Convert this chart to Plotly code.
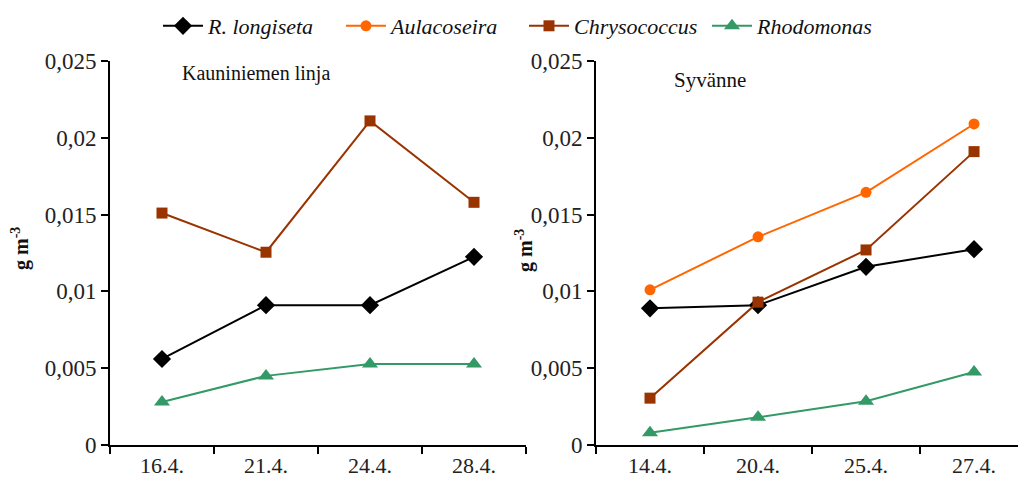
import plotly.graph_objects as go

# Sampling dates for the two stations
dates_kauniniemi = ["16.4.", "21.4.", "24.4.", "28.4."]
dates_syvanne = ["14.4.", "20.4.", "25.4.", "27.4."]

# Biomass (g m-3), Kauniniemen linja
k_longiseta = [0.0056, 0.0091, 0.0091, 0.01225]
k_chrysococcus = [0.0151, 0.01255, 0.0211, 0.0158]
k_rhodomonas = [0.0028, 0.0045, 0.00527, 0.00527]

# Biomass (g m-3), Syvänne
s_longiseta = [0.0089, 0.0091, 0.0116, 0.01275]
s_aulacoseira = [0.0101, 0.01355, 0.01645, 0.0209]
s_chrysococcus = [0.00305, 0.0093, 0.0127, 0.0191]
s_rhodomonas = [0.0008, 0.0018, 0.00285, 0.00475]

y_ticks = [0, 0.005, 0.01, 0.015, 0.02, 0.025]

FONT = "Liberation Serif"
styles = {
    "R. longiseta": dict(color="#000000", symbol="diamond", size=14),
    "Aulacoseira": dict(color="#FF6600", symbol="circle", size=11),
    "Chrysococcus": dict(color="#993300", symbol="square", size=11),
    "Rhodomonas": dict(color="#339966", symbol="triangle-up", size=14),
}

fig = go.Figure()


def add_series(name, x, y, xa, ya, show):
    st = styles[name]
    fig.add_trace(go.Scatter(
        x=x, y=y, name=name, mode="lines+markers",
        line=dict(color=st["color"], width=2),
        marker=dict(color=st["color"], symbol=st["symbol"], size=st["size"]),
        xaxis=xa, yaxis=ya, showlegend=show, legendgroup=name,
    ))


# Right panel carries the legend (it has all four taxa)
add_series("R. longiseta", dates_syvanne, s_longiseta, "x2", "y2", True)
add_series("Aulacoseira", dates_syvanne, s_aulacoseira, "x2", "y2", True)
add_series("Chrysococcus", dates_syvanne, s_chrysococcus, "x2", "y2", True)
add_series("Rhodomonas", dates_syvanne, s_rhodomonas, "x2", "y2", True)

add_series("R. longiseta", dates_kauniniemi, k_longiseta, "x", "y", False)
add_series("Chrysococcus", dates_kauniniemi, k_chrysococcus, "x", "y", False)
add_series("Rhodomonas", dates_kauniniemi, k_rhodomonas, "x", "y", False)

xcommon = dict(
    type="category", showline=True, linecolor="black", linewidth=2,
    ticks="outside", tickson="boundaries", ticklen=7, tickwidth=2,
    tickcolor="black", showgrid=False, zeroline=False,
    tickfont=dict(family=FONT, size=22, color="#222"),
)
ycommon = dict(
    range=[0, 0.025], tickvals=y_ticks, showline=True, linecolor="black",
    linewidth=2, ticks="outside", ticklen=7, tickwidth=2, tickcolor="black",
    showgrid=False, zeroline=False,
    tickfont=dict(family=FONT, size=23, color="#222"),
)

W = 1018
fig.update_layout(
    width=W, height=487,
    margin=dict(l=0, r=0, t=61, b=42),
    paper_bgcolor="white", plot_bgcolor="white",
    separators=", ",
    xaxis=dict(xcommon, domain=[110 / W, 526 / W], range=[-0.5, 3.5], anchor="y"),
    yaxis=dict(ycommon, anchor="x"),
    xaxis2=dict(xcommon, domain=[596 / W, 1.0], range=[-0.5, 3.407], anchor="y2"),
    yaxis2=dict(ycommon, anchor="x2"),
    legend=dict(
        orientation="h", x=524 / W, xanchor="center", y=1 + 35 / 384,
        yanchor="middle", font=dict(family=FONT, size=22, color="#111", style="italic"),
        bgcolor="rgba(0,0,0,0)", itemwidth=40, tracegroupgap=0,
        entrywidth=128, entrywidthmode="pixels",
    ),
    showlegend=True,
)

title_font = dict(family=FONT, color="#111")
fig.add_annotation(text="Kauniniemen linja", x=180 / W, y=(445 - 73) / 384,
                   xref="paper", yref="paper", xanchor="left", yanchor="middle",
                   showarrow=False, font=dict(title_font, size=20))
fig.add_annotation(text="Syvänne", x=672 / W, y=(445 - 80) / 384,
                   xref="paper", yref="paper", xanchor="left", yanchor="middle",
                   showarrow=False, font=dict(title_font, size=21))

for xp, yp in [(20, 249), (524, 251)]:
    fig.add_annotation(text="<b>g m<sup>-3</sup></b>", x=xp / W, y=(445 - yp) / 384,
                       xref="paper", yref="paper", xanchor="center", yanchor="middle",
                       textangle=-90, showarrow=False,
                       font=dict(family=FONT, size=20, color="#111"))

fig.write_html("out.html")
